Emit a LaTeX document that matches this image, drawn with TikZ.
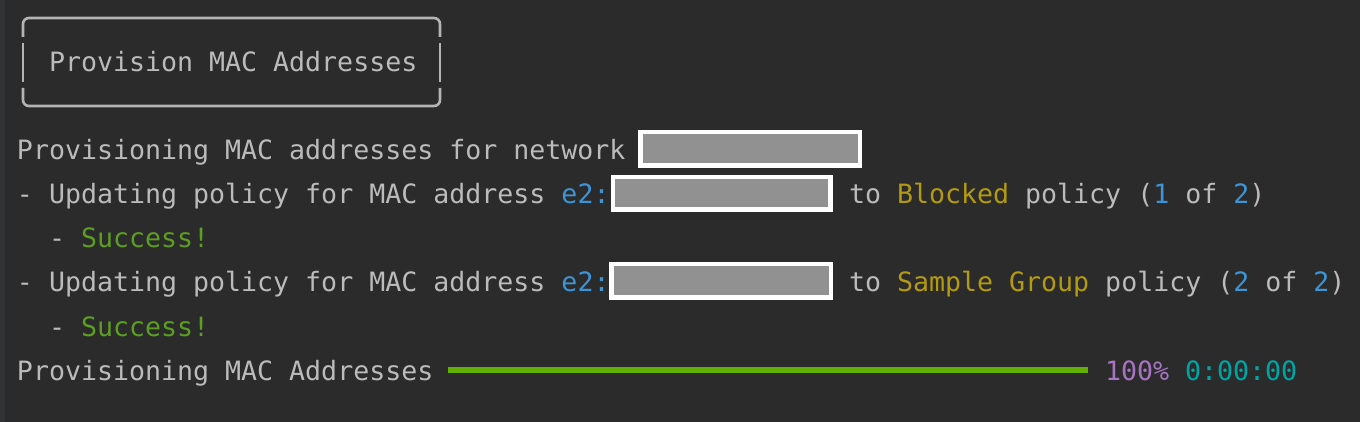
\documentclass[tikz,border=0pt]{standalone}
\usepackage{fontspec}
\setmonofont{DejaVu Sans Mono}
\definecolor{bg}{HTML}{2B2B2B}
\definecolor{strip}{HTML}{313335}
\definecolor{fg}{HTML}{BBBBBB}
\definecolor{boxline}{HTML}{B4B4B4}
\definecolor{tblue}{HTML}{3D94D6}
\definecolor{tgold}{HTML}{B49A10}
\definecolor{tgreen}{HTML}{5C9E22}
\definecolor{bargreen}{HTML}{5FB000}
\definecolor{tpurple}{HTML}{A873C2}
\definecolor{tcyan}{HTML}{00A6A6}
\definecolor{redgray}{HTML}{919191}
\tikzset{
  term/.style={anchor=base west, inner sep=0pt, outer sep=0pt, text=fg,
    font=\ttfamily\fontsize{13.3pt}{16pt}\selectfont},
  redact/.style={draw=white, line width=2.25pt, fill=redgray, inner sep=0pt, outer sep=0pt},
  frame/.style={draw=boxline, line width=1.3pt, line cap=butt},
  pbar/.style={draw=bargreen, line width=3pt}
}
\begin{document}
\begin{tikzpicture}[x=0.5pt, y=-0.5pt]
\fill[bg] (0,0) rectangle (1360,422);
\fill[strip] (0,0) rectangle (5,422);
\useasboundingbox (0,0) rectangle (1360,422);
% title frame
\draw[frame, rounded corners=3pt] (23,37) -- (23,18) -- (440,18) -- (440,37);
\draw[frame] (23,43) -- (23,82);
\draw[frame] (440,43) -- (440,82);
\draw[frame, rounded corners=3pt] (23,88) -- (23,106) -- (440,106) -- (440,88);
\node[term] (title) at (49,72) {Provision MAC Addresses};
% line 1
\node[term] (l1) at (17,160) {Provisioning MAC addresses for network};
\node[redact, minimum width=109.75pt, minimum height=16.75pt] (r1) at (750,149) {};
% line 2
\node[term] (l2a) at (17,204) {- Updating policy for MAC address \textcolor{tblue}{e2:}};
\node[redact, minimum width=108.75pt, minimum height=16.25pt] (r2) at (721.5,193.5) {};
\node[term] (l2b) at (849,204) {to \textcolor{tgold}{Blocked} policy (\textcolor{tblue}{1} of \textcolor{tblue}{2})};
% line 3
\node[term] (l3) at (49,248) {- \textcolor{tgreen}{Success!}};
% line 4
\node[term] (l4a) at (17,292) {- Updating policy for MAC address \textcolor{tblue}{e2:}};
\node[redact, minimum width=109.75pt, minimum height=16.75pt] (r3) at (721,281) {};
\node[term] (l4b) at (849,292) {to \textcolor{tgold}{Sample Group} policy (\textcolor{tblue}{2} of \textcolor{tblue}{2})};
% line 5
\node[term] (l5) at (49,336) {- \textcolor{tgreen}{Success!}};
% line 6
\node[term] (l6) at (17,380) {Provisioning MAC Addresses};
\coordinate (b0) at (448,370);
\coordinate (b1) at (1088,370);
\draw[pbar] (b0) -- (b1);
\node[term, text=tpurple] (pct) at (1105,380) {100\%};
\node[term, text=tcyan] (time) at (1185,380) {0:00:00};
\end{tikzpicture}
\end{document}
